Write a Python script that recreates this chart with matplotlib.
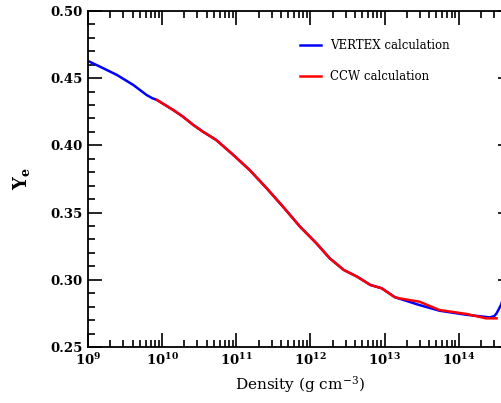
import matplotlib.pyplot as plt
import numpy as np

# log10(density), Ye
vertex_logrho = [9.0, 9.16, 9.39, 9.61, 9.79, 9.87, 9.93, 10.15, 10.28, 10.42, 10.55, 10.73,
                 10.96, 11.18, 11.41, 11.63, 11.86, 12.08, 12.26, 12.45, 12.63, 12.81, 12.96,
                 13.14, 13.47, 13.74, 14.1, 14.42, 14.48, 14.51, 14.57, 14.62]
vertex_ye = [0.4628, 0.4586, 0.4524, 0.445, 0.4375, 0.4350, 0.4338, 0.4263, 0.4214, 0.4152,
             0.4102, 0.4040, 0.3929, 0.3817, 0.3681, 0.3544, 0.3395, 0.3272, 0.3160, 0.3073,
             0.3023, 0.2961, 0.2937, 0.2870, 0.2812, 0.2770, 0.2740, 0.2720, 0.2730, 0.2750,
             0.2813, 0.2900]

ccw_logrho = [9.93, 10.15, 10.28, 10.42, 10.55, 10.73, 10.96, 11.18, 11.41, 11.63, 11.86,
              12.08, 12.26, 12.45, 12.63, 12.81, 12.96, 13.14, 13.2, 13.47, 13.74, 14.1,
              14.37, 14.51]
ccw_ye = [0.4338, 0.4263, 0.4214, 0.4152, 0.4102, 0.4040, 0.3929, 0.3817, 0.3681, 0.3544,
          0.3395, 0.3272, 0.3160, 0.3073, 0.3023, 0.2961, 0.2937, 0.2870, 0.2862, 0.2837,
          0.2775, 0.2746, 0.2713, 0.2713]

plt.rcParams['font.family'] = ['DejaVu Serif']
plt.rcParams['mathtext.fontset'] = 'dejavuserif'

fig = plt.figure(figsize=(5.02, 4.03), dpi=100)
ax = fig.add_axes([0.175, 0.139, 0.8446, 0.834])

ax.plot(10 ** np.array(vertex_logrho), vertex_ye, color='#0000ff', lw=1.8, label='VERTEX calculation')
ax.plot(10 ** np.array(ccw_logrho), ccw_ye, color='#ff0000', lw=1.8, label='CCW calculation')

ax.set_xscale('log')
ax.set_xlim(1e9, 5.2e14)
ax.set_ylim(0.25, 0.50)
ax.set_yticks([0.25, 0.30, 0.35, 0.40, 0.45, 0.50])
ax.set_yticks(np.arange(0.25, 0.501, 0.01), minor=True)
ax.set_xticks([1e9, 1e10, 1e11, 1e12, 1e13, 1e14])
ax.set_xticklabels([r'$\mathbf{10^{%d}}$' % k for k in range(9, 15)])
ax.set_yticklabels(['%.2f' % v for v in [0.25, 0.30, 0.35, 0.40, 0.45, 0.50]])

ax.tick_params(which='both', direction='in', top=True, right=True, width=1.2)
ax.tick_params(which='major', length=10, labelsize=9.5, pad=4)
ax.tick_params(which='minor', length=5)
for lab in ax.get_yticklabels() + ax.get_xticklabels():
    lab.set_fontweight('bold')
for s in ax.spines.values():
    s.set_linewidth(1.3)

ax.set_xlabel(r'Density (g cm$^{-3}$)', fontsize=11, labelpad=4)
ax.set_ylabel(r'$\mathbf{Y_e}$', fontsize=13, labelpad=13)

ax.legend(loc='upper left', bbox_to_anchor=(0.475, 0.948), frameon=False, fontsize=8.5,
          handlelength=1.8, handletextpad=0.75, labelspacing=1.55)

fig.savefig('out.png', dpi=100)
